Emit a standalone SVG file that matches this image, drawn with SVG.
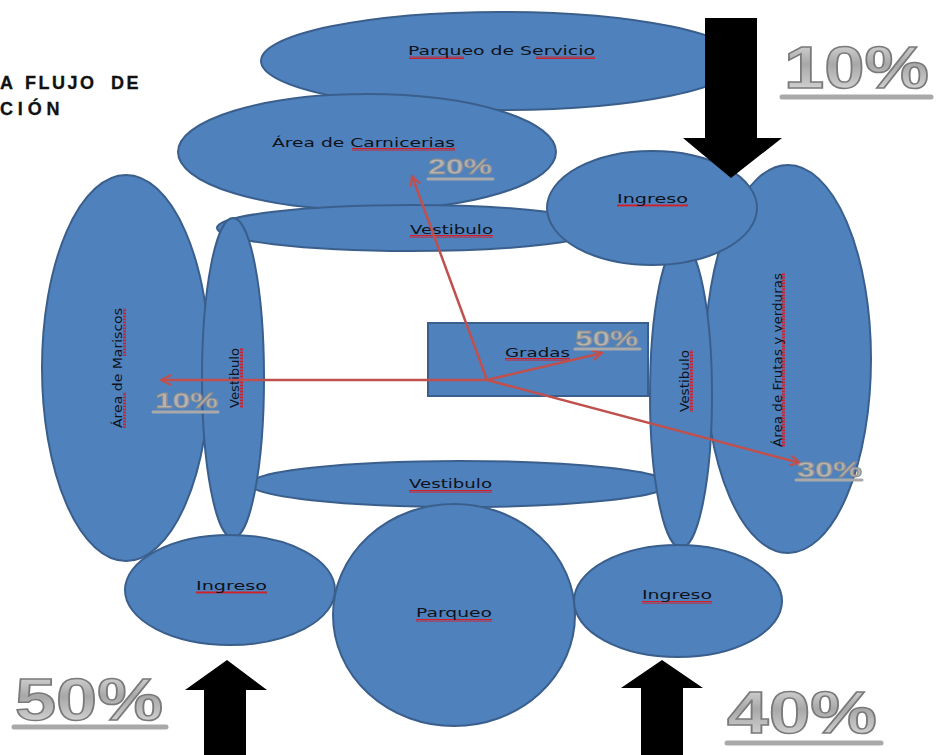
<svg xmlns="http://www.w3.org/2000/svg" width="936" height="755" viewBox="0 0 936 755">
  <defs>
    <style>
      .area { fill: #4F81BD; stroke: #3A5F8C; stroke-width: 2; }
      .lbl { font-family: "DejaVu Sans", Verdana, sans-serif; font-size: 13px; fill: #10131c; }
      .vlbl { font-family: "DejaVu Sans", Verdana, sans-serif; font-size: 13px; fill: #10131c; }
      .title { font-family: "Liberation Sans", Arial, sans-serif; font-weight: bold; font-size: 18px; letter-spacing: 2.5px; fill: #111; stroke: #111; stroke-width: 0.3; }
      .big { font-family: "Liberation Sans", Arial, sans-serif; font-weight: bold; font-size: 60px; fill: url(#metal); stroke: #7a7a7a; stroke-width: 1.5; }
      .small { font-family: "Liberation Sans", Arial, sans-serif; font-weight: bold; font-size: 22px; fill: #b4b4b4; stroke: #8c8c8c; stroke-width: 0.8; }
      .bar { stroke: #a9a9a9; stroke-linecap: round; }
      .flow { fill: none; stroke: #C0504D; stroke-width: 2.5; marker-end: url(#open); }
      .block { fill: #000; }
      .squig { fill: url(#zig); }
    </style>
    <linearGradient id="metal" x1="0" y1="0" x2="0" y2="1">
      <stop offset="0" stop-color="#e6e6e6"/>
      <stop offset="0.45" stop-color="#a8a8a8"/>
      <stop offset="0.75" stop-color="#c8c8c8"/>
      <stop offset="1" stop-color="#eeeeee"/>
    </linearGradient>
    <pattern id="zig" width="4" height="3" patternUnits="userSpaceOnUse">
      <path d="M0,2.6 L1,0.4 L2,2.6 L3,0.4 L4,2.6" fill="none" stroke="#d0202a" stroke-width="1"/>
    </pattern>
    <marker id="open" viewBox="0 0 12 12" refX="11" refY="6" markerWidth="12" markerHeight="12" markerUnits="userSpaceOnUse" orient="auto">
      <path d="M1,1 L11,6 L1,11" fill="none" stroke="#C0504D" stroke-width="2.2"/>
    </marker>
  </defs>

  <rect width="936" height="755" fill="#ffffff"/>

  <!-- heading, cut at the left edge -->
  <g id="heading">
    <text class="title" y="89"><tspan x="0">A</tspan><tspan x="25">FLUJO</tspan><tspan x="111">DE</tspan></text>
    <text class="title" x="0" y="115" textLength="62" lengthAdjust="spacing">CIÓN</text>
  </g>

  <g id="parqueo-servicio">
    <ellipse class="area" cx="501" cy="61" rx="240" ry="49"/>
    <rect class="squig" x="409" y="56" width="55" height="3"/>
    <rect class="squig" x="536" y="56" width="59" height="3"/>
    <text class="lbl" x="408" y="55" textLength="187" lengthAdjust="spacingAndGlyphs">Parqueo de Servicio</text>
  </g>

  <g id="carnicerias">
    <ellipse class="area" cx="367" cy="152" rx="189" ry="58"/>
    <rect class="squig" x="352" y="148" width="103" height="3"/>
    <text class="lbl" x="272" y="147" textLength="183" lengthAdjust="spacingAndGlyphs">Área de Carnicerias</text>
  </g>

  <g id="mariscos">
    <ellipse class="area" cx="126" cy="368" rx="84" ry="193"/>
    <rect class="squig" x="123" y="308" width="3" height="48"/>
    <rect class="squig" x="123" y="392" width="3" height="36"/>
    <text class="vlbl" transform="translate(122,368) rotate(-90)" text-anchor="middle" textLength="120" lengthAdjust="spacingAndGlyphs">Área de Mariscos</text>
  </g>

  <g id="frutas">
    <ellipse class="area" cx="788" cy="359" rx="83" ry="194"/>
    <rect class="squig" x="782" y="273" width="3" height="174"/>
    <text class="vlbl" transform="translate(782,360) rotate(-90)" text-anchor="middle" textLength="174" lengthAdjust="spacingAndGlyphs">Área de Frutas y verduras</text>
  </g>

  <g id="vestibulo-top">
    <ellipse class="area" cx="410" cy="228" rx="193" ry="23"/>
    <rect class="squig" x="410" y="235" width="83" height="3"/>
    <text class="lbl" x="410" y="234" textLength="83" lengthAdjust="spacingAndGlyphs">Vestibulo</text>
  </g>

  <g id="vestibulo-bottom">
    <ellipse class="area" cx="460" cy="484" rx="210" ry="23"/>
    <rect class="squig" x="409" y="490" width="83" height="3"/>
    <text class="lbl" x="409" y="488" textLength="83" lengthAdjust="spacingAndGlyphs">Vestibulo</text>
  </g>

  <g id="vestibulo-left">
    <ellipse class="area" cx="233" cy="378" rx="31" ry="160"/>
    <rect class="squig" x="240" y="348" width="3" height="60"/>
    <text class="vlbl" transform="translate(239,378) rotate(-90)" text-anchor="middle" textLength="60" lengthAdjust="spacingAndGlyphs">Vestibulo</text>
  </g>

  <g id="vestibulo-right">
    <ellipse class="area" cx="681" cy="395" rx="31" ry="153"/>
    <rect class="squig" x="690" y="350" width="3" height="62"/>
    <text class="vlbl" transform="translate(689,381) rotate(-90)" text-anchor="middle" textLength="62" lengthAdjust="spacingAndGlyphs">Vestibulo</text>
  </g>

  <g id="gradas">
    <rect class="area" x="428" y="323" width="220" height="73"/>
    <rect class="squig" x="505" y="358" width="65" height="3"/>
    <text class="lbl" x="505" y="357" textLength="65" lengthAdjust="spacingAndGlyphs">Gradas</text>
  </g>

  <g id="ingreso-norte">
    <ellipse class="area" cx="652" cy="208" rx="105" ry="57"/>
    <rect class="squig" x="617" y="204" width="71" height="3"/>
    <text class="lbl" x="617" y="203" textLength="71" lengthAdjust="spacingAndGlyphs">Ingreso</text>
  </g>

  <g id="ingreso-oeste">
    <ellipse class="area" cx="230" cy="590" rx="105" ry="55"/>
    <rect class="squig" x="196" y="591" width="71" height="3"/>
    <text class="lbl" x="196" y="590" textLength="71" lengthAdjust="spacingAndGlyphs">Ingreso</text>
  </g>

  <g id="parqueo">
    <ellipse class="area" cx="454" cy="615" rx="121" ry="111"/>
    <rect class="squig" x="416" y="619" width="76" height="3"/>
    <text class="lbl" x="416" y="617" textLength="76" lengthAdjust="spacingAndGlyphs">Parqueo</text>
  </g>

  <g id="ingreso-este">
    <ellipse class="area" cx="678" cy="601" rx="104" ry="56"/>
    <rect class="squig" x="642" y="601" width="70" height="3"/>
    <text class="lbl" x="642" y="599" textLength="70" lengthAdjust="spacingAndGlyphs">Ingreso</text>
  </g>

  <!-- entry arrows with share of visitors -->
  <g id="entradas">
    <polygon class="block" points="705,18 757,18 757,138 782,138 731,178 683,138 705,138"/>
    <polygon class="block" points="227,660 267,690 246,690 246,755 204,755 204,690 185,690"/>
    <polygon class="block" points="662,660 703,688 683,688 683,755 641,755 641,688 621,688"/>

    <text class="big" x="784" y="88" textLength="145" lengthAdjust="spacingAndGlyphs">10%</text>
    <line class="bar" x1="782" y1="97" x2="931" y2="97" stroke-width="5"/>
    <text class="big" x="15" y="720" textLength="148" lengthAdjust="spacingAndGlyphs">50%</text>
    <line class="bar" x1="14" y1="727" x2="166" y2="727" stroke-width="5"/>
    <text class="big" x="727" y="733" textLength="150" lengthAdjust="spacingAndGlyphs">40%</text>
    <line class="bar" x1="727" y1="743" x2="881" y2="743" stroke-width="5"/>
  </g>

  <!-- internal flow from the stairs -->
  <g id="connectors">
    <line class="flow" x1="487" y1="380" x2="412" y2="176"/>
    <line class="flow" x1="487" y1="380" x2="602" y2="353"/>
    <line class="flow" x1="487" y1="380" x2="161" y2="380"/>
    <line class="flow" x1="487" y1="380" x2="800" y2="463"/>
  </g>

  <g id="porcentajes">
    <text class="small" x="428" y="174" textLength="64" lengthAdjust="spacingAndGlyphs">20%</text>
    <line class="bar" x1="428" y1="179" x2="493" y2="179" stroke-width="3"/>
    <text class="small" x="575" y="346" textLength="63" lengthAdjust="spacingAndGlyphs">50%</text>
    <line class="bar" x1="575" y1="349" x2="640" y2="349" stroke-width="3"/>
    <text class="small" x="155" y="408" textLength="63" lengthAdjust="spacingAndGlyphs">10%</text>
    <line class="bar" x1="153" y1="412" x2="218" y2="412" stroke-width="3"/>
    <text class="small" x="797" y="477" textLength="65" lengthAdjust="spacingAndGlyphs">30%</text>
    <line class="bar" x1="796" y1="480" x2="862" y2="480" stroke-width="3"/>
  </g>
</svg>
